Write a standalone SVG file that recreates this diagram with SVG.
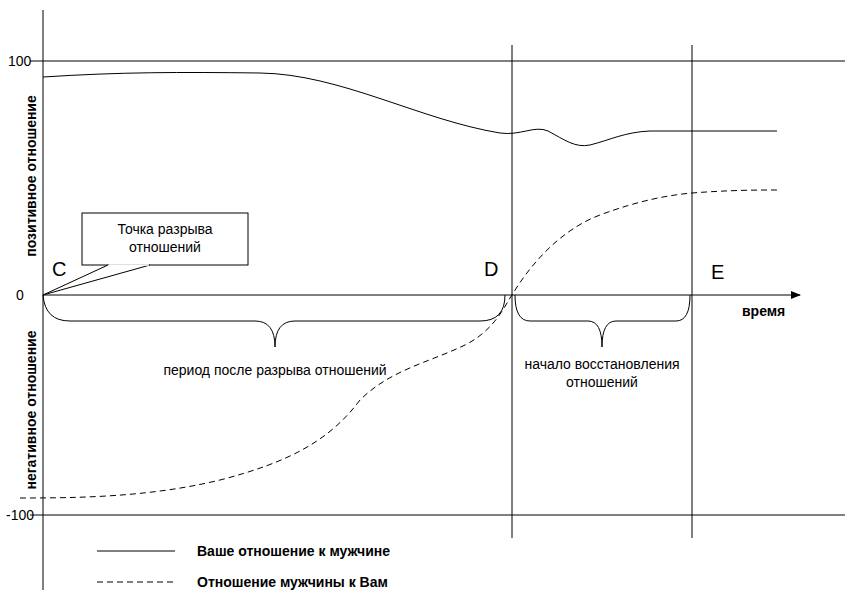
<svg xmlns="http://www.w3.org/2000/svg" width="861" height="606" viewBox="0 0 861 606">
<style>
.ln{stroke:#000;stroke-width:1;fill:none}
.t{font-family:"Liberation Sans",Arial,sans-serif;font-size:14px;fill:#000}
.b{font-family:"Liberation Sans",Arial,sans-serif;font-size:14px;font-weight:bold;fill:#000}
.big{font-family:"Liberation Sans",Arial,sans-serif;font-size:20px;fill:#000}
</style>
<defs><marker id="ar" markerWidth="10" markerHeight="8" refX="9" refY="4" orient="auto" markerUnits="userSpaceOnUse"><path d="M0,0 L10,4 L0,8 Z" fill="#000"/></marker></defs>
<rect width="861" height="606" fill="#fff"/>
<g id="axes">
<line class="ln" x1="43" y1="10" x2="43" y2="590"/>
<line class="ln" x1="30" y1="61" x2="845" y2="61"/>
<line class="ln" x1="30" y1="515" x2="845" y2="515"/>
<line class="ln" x1="43" y1="295" x2="800" y2="295" marker-end="url(#ar)"/>
<line class="ln" x1="512" y1="45" x2="512" y2="538"/>
<line class="ln" x1="692" y1="45" x2="692" y2="538"/>
<text class="t" x="8" y="66">100</text>
<text class="t" x="16" y="300">0</text>
<text class="t" x="6" y="520">-100</text>
<text class="b" x="742" y="316">время</text>
<text class="b" transform="translate(36,176) rotate(-90)" text-anchor="middle" font-size="15">позитивное отношение</text>
<text class="b" transform="translate(36,410) rotate(-90)" text-anchor="middle" font-size="15">негативное отношение</text>
<text class="big" x="52" y="276">C</text>
<text class="big" x="484" y="276">D</text>
<text class="big" x="711" y="279">E</text>
</g>
<g id="callout">
<rect class="ln" x="82" y="213" width="166" height="52" fill="#fff"/>
<path d="M108,265 L43,295 L150,265" fill="#fff" stroke="#000"/>
<line x1="109" y1="265" x2="149" y2="265" stroke="#fff" stroke-width="1.5"/>
<text class="t" x="165" y="234" text-anchor="middle">Точка разрыва</text>
<text class="t" x="165" y="252" text-anchor="middle">отношений</text>
</g>
<g id="connectors">
<path class="ln" stroke-width="1.6" d="M43,77 C120,72 180,72 260,73 C340,74 420,120 500,133 C520,136 535,125 548,131 C565,140 575,148 590,145 C610,140 625,132 650,131 L777,131"/>
<path class="ln" stroke-width="1.6" stroke-dasharray="6,4" d="M20,498 C80,498 150,497 220,480 C290,462 330,440 360,400 C390,370 430,362 465,345 C495,330 505,305 512,295 C530,265 560,230 600,215 C640,200 670,195 692,193 C730,190 760,190 777,190"/>
<path class="ln" d="M43,295 Q45,321 70,321 L255,321 Q275,321 275,347 Q275,321 295,321 L480,321 Q505,321 505,295"/>
<path class="ln" d="M515,295 Q515,321 530,321 L588,321 Q602,321 602,347 Q602,321 616,321 L676,321 Q690,321 690,295"/>
</g>
<g id="labels">
<text class="t" x="275" y="375" text-anchor="middle">период после разрыва отношений</text>
<text class="t" x="602" y="369" text-anchor="middle">начало восстановления</text>
<text class="t" x="602" y="387" text-anchor="middle">отношений</text>
</g>
<g id="legend">
<line class="ln" stroke-width="1.6" x1="97" y1="551" x2="175" y2="551"/>
<line class="ln" stroke-width="1.6" stroke-dasharray="6,4" x1="97" y1="582" x2="175" y2="582"/>
<text class="b" x="197" y="556">Ваше отношение к мужчине</text>
<text class="b" x="197" y="587">Отношение мужчины к Вам</text>
</g>
</svg>
